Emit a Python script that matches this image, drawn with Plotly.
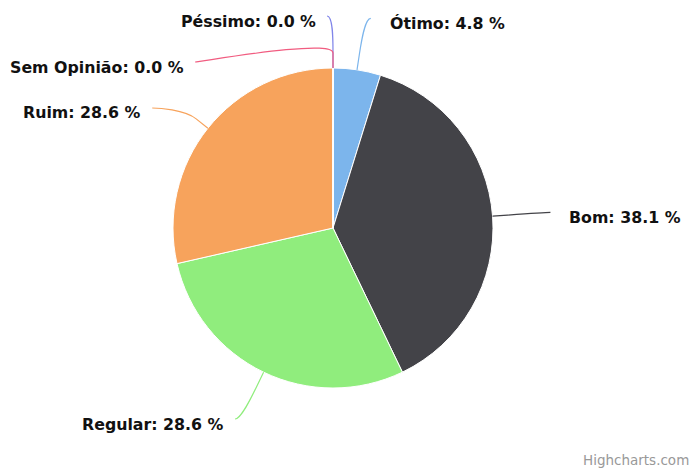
import math
import plotly.graph_objects as go

# data
categorias = ['Ótimo', 'Bom', 'Regular', 'Ruim', 'Péssimo', 'Sem Opinião']
percentuais = [4.8, 38.1, 28.6, 28.6, 0.0, 0.0]
cores = ['#7cb5ec', '#434348', '#90ed7d', '#f7a35c', '#8085e9', '#f15c80']

W, H = 692, 470
CX, CY, RAIO = 333, 228, 160      # pie geometry in pixels
R_LABEL = 212                      # radius where the labels sit
PASSO = 46                         # min vertical gap between labels on one side


def px(x, y):
    return x / W, 1 - y / H


fig = go.Figure()
fig.add_trace(go.Pie(
    labels=categorias, values=percentuais, sort=False, direction='clockwise', rotation=0,
    marker=dict(colors=cores, line=dict(color='white', width=1)),
    textinfo='none', showlegend=False, hoverinfo='label+percent',
    domain=dict(x=[(CX - RAIO) / W, (CX + RAIO) / W], y=[1 - (CY + RAIO) / H, 1 - (CY - RAIO) / H]),
))

# label layout, highcharts style: points at mid angle, pushed apart per side
total = sum(percentuais)
acum = 0
rotulos = []
for i, v in enumerate(percentuais):
    ang = math.radians((acum + v / 2) / total * 360)
    acum += v
    direita = math.sin(ang) > 1e-9
    rotulos.append(dict(i=i, ang=ang, dir=direita, y=CY - R_LABEL * math.cos(ang)))

for lado in (True, False):
    grupo = sorted([r for r in rotulos if r['dir'] == lado], key=lambda r: (r['y'], r['i']))
    for a, b in zip(grupo, grupo[1:]):
        b['y'] = max(b['y'], a['y'] + PASSO)

shapes, anots = [], []
for r in rotulos:
    i, ang = r['i'], r['ang']
    s = 1 if r['dir'] else -1
    y = r['y']
    dy = min(abs(y - CY), R_LABEL)
    x = CX + s * math.sqrt(R_LABEL ** 2 - dy ** 2)
    dx, dyr = math.sin(ang), -math.cos(ang)
    p4 = (CX + RAIO * dx, CY + RAIO * dyr)
    p2 = (CX + (RAIO + 15) * dx, CY + (RAIO + 15) * dyr)
    c2 = (2 * p2[0] - p4[0], 2 * p2[1] - p4[1])
    m = (x + s * 6, y)
    pts = [px(*m), px(x, y), px(*c2), px(*p2), px(*p4)]
    caminho = 'M {0[0]},{0[1]} C {1[0]},{1[1]} {2[0]},{2[1]} {3[0]},{3[1]} L {4[0]},{4[1]}'.format(*pts)
    shapes.append(dict(type='path', path=caminho, xref='paper', yref='paper',
                       line=dict(color=cores[i], width=1.2)))
    tx = m[0] + (17 if r['dir'] else -9)
    ax, ay = px(tx, y + 5)
    anots.append(dict(x=ax, y=ay, xref='paper', yref='paper', showarrow=False,
                      xanchor='left' if r['dir'] else 'right', yanchor='middle',
                      text='%s: %.1f %%' % (categorias[i], percentuais[i]),
                      font=dict(family='DejaVu Sans', size=15.8, color='#111', weight='bold')))

anots.append(dict(x=px(691, 0)[0], y=0, xref='paper', yref='paper', showarrow=False,
                  xanchor='right', yanchor='bottom', text='Highcharts.com',
                  font=dict(family='DejaVu Sans', size=13.5, color='#999999')))

fig.update_layout(width=W, height=H, margin=dict(l=0, r=0, t=0, b=0),
                  paper_bgcolor='white', plot_bgcolor='white',
                  shapes=shapes, annotations=anots)
# drop the browser's default 8px body margin so the chart sits at the window corner
fig.write_html('out.html', config={'displayModeBar': False},
               post_script="document.body.style.margin='0';"
               "document.documentElement.style.overflow='hidden';")
